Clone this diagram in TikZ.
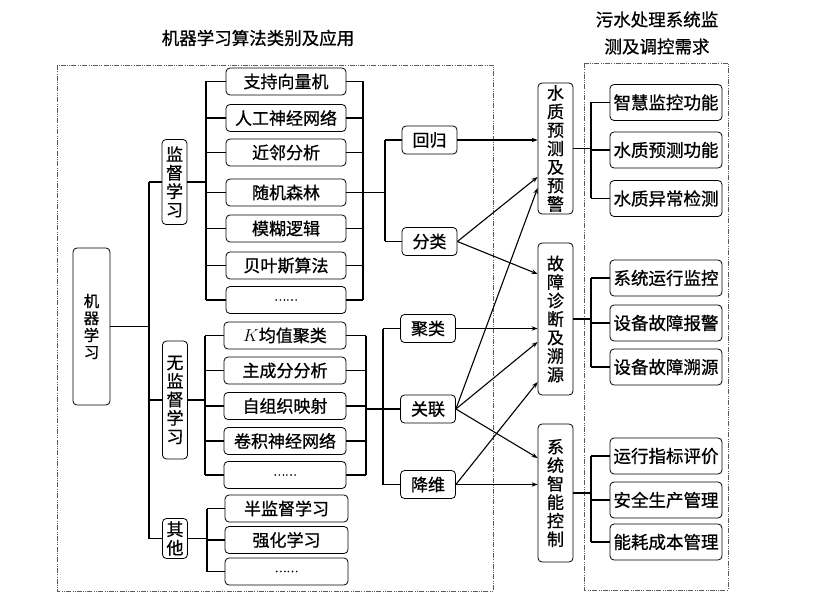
\documentclass[tikz,border=0pt]{standalone}
\usepackage{fontspec}
\newfontfamily\cjk[FakeBold=0.8]{Noto Sans CJK SC}
\usetikzlibrary{arrows.meta}
\definecolor{framegray}{RGB}{90,90,90}

\begin{document}
\begin{tikzpicture}[x=1pt, y=-1pt,
  box/.style={draw, rounded corners=4pt, line width=0.8pt, inner sep=0pt,
    font=\cjk\fontsize{17}{18.5}\selectfont, align=center},
  algbox/.style={box, minimum width=120pt, minimum height=27pt},
  taskbox/.style={box, minimum width=55pt, minimum height=28pt},
  vbox/.style={box, minimum width=25pt},
  appbox/.style={box, minimum width=35pt},
  needbox/.style={box, minimum width=112pt, minimum height=36pt,
    font=\cjk\fontsize{17.5}{18.5}\selectfont},
  link/.style={line width=1.1pt},
  arr/.style={line width=1.1pt, -{Stealth[length=6pt,width=4.5pt]}},
  frame/.style={framegray, line width=0.6pt,
    dash pattern=on 5pt off 1.5pt on 0.6pt off 1.5pt on 0.6pt off 1.5pt}
  ]
  \useasboundingbox (0,0) rectangle (829,609);

  % titles and frames
  \node[font=\cjk\fontsize{17.5}{18}\selectfont] (title1) at (258,38) {机器学习算法类别及应用};
  \node[font=\cjk\fontsize{17.5}{27}\selectfont, align=center] (title2) at (657,33)
    {污水处理系统监\\测及调控需求};
  \draw[frame] (57,65) rectangle (493,591);
  \draw[frame] (584,63) rectangle (728,590);

  % root and categories
  \node[box, minimum width=37pt, minimum height=157pt,
    font=\cjk\fontsize{15.5}{17}\selectfont] (ml) at (91.5,326.5) {机\\器\\学\\习};
  \node[vbox, minimum height=85pt] (sup) at (174.5,182) {监\\督\\学\\习};
  \node[vbox, minimum height=118pt] (unsup) at (175,400) {无\\监\\督\\学\\习};
  \node[vbox, minimum height=40pt] (other) at (175,538.5) {其\\他};

  % supervised algorithms
  \node[algbox] (svm) at (286,81.5) {支持向量机};
  \node[algbox] (ann) at (286,118) {人工神经网络};
  \node[algbox] (knn) at (286,152.5) {近邻分析};
  \node[algbox] (rf) at (286,192.5) {随机森林};
  \node[algbox] (fuzzy) at (286,228.5) {模糊逻辑};
  \node[algbox] (bayes) at (286,265.5) {贝叶斯算法};
  \node[algbox, font=\cjk\fontsize{11}{12}\selectfont] (sdots) at (286,300) {……};

  % unsupervised algorithms
  \node[algbox, minimum width=122pt] (kmeans) at (285,335.5) {$K$均值聚类};
  \node[algbox, minimum width=122pt] (pca) at (285,370.5) {主成分分析};
  \node[algbox, minimum width=122pt] (som) at (285,406) {自组织映射};
  \node[algbox, minimum width=122pt] (cnn) at (285,441) {卷积神经网络};
  \node[algbox, minimum width=122pt, font=\cjk\fontsize{11}{12}\selectfont] (udots) at (285,475) {……};

  % other algorithms
  \node[algbox, minimum width=123pt] (semi) at (286.5,508.5) {半监督学习};
  \node[algbox, minimum width=123pt] (rl) at (286.5,540) {强化学习};
  \node[algbox, minimum width=123pt, font=\cjk\fontsize{11}{12}\selectfont] (odots) at (286.5,571.5) {……};

  % tasks
  \node[taskbox] (reg) at (429.5,140) {回归};
  \node[taskbox] (cls) at (429.5,241.5) {分类};
  \node[taskbox] (clu) at (428,328.5) {聚类};
  \node[taskbox] (rel) at (428,409) {关联};
  \node[taskbox] (dim) at (428,484.5) {降维};

  % applications
  \node[appbox, minimum height=131pt] (wq) at (555.5,148.5) {水\\质\\预\\测\\及\\预\\警};
  \node[appbox, minimum height=152pt] (fault) at (555.5,319) {故\\障\\诊\\断\\及\\溯\\源};
  \node[appbox, minimum height=138pt] (ctrl) at (555.5,493) {系\\统\\智\\能\\控\\制};

  % needs
  \node[needbox] (n1) at (666,102.5) {智慧监控功能};
  \node[needbox] (n2) at (666,150) {水质预测功能};
  \node[needbox] (n3) at (666,198.5) {水质异常检测};
  \node[needbox] (n4) at (666,278) {系统运行监控};
  \node[needbox] (n5) at (666,323) {设备故障报警};
  \node[needbox] (n6) at (666,367) {设备故障溯源};
  \node[needbox] (n7) at (666,456) {运行指标评价};
  \node[needbox] (n8) at (666,500) {安全生产管理};
  \node[needbox] (n9) at (666,542) {能耗成本管理};

  % root tree
  \coordinate (mbus) at (149,0);
  \draw[link] (ml.east) -- (mbus |- ml.east);
  \draw[link] (mbus |- sup) -- (mbus |- other);
  \foreach \c in {sup,unsup,other}
    \draw[link] (mbus |- \c) -- (\c.west);

  % supervised tree
  \coordinate (sbus) at (206,0);
  \coordinate (sout) at (363,0);
  \coordinate (sfork) at (385,0);
  \draw[link] (sup.east) -- (sbus |- sup.east);
  \draw[link] (sbus |- svm) -- (sbus |- sdots);
  \draw[link] (sout |- svm) -- (sout |- sdots);
  \foreach \b in {svm,ann,knn,rf,fuzzy,bayes,sdots} {
    \draw[link] (sbus |- \b) -- (\b.west);
    \draw[link] (\b.east) -- (sout |- \b);
  }
  \draw[link] (sout |- rf) -- (sfork |- rf);
  \draw[link] (sfork |- reg) -- (sfork |- cls);
  \draw[link] (sfork |- reg) -- (reg.west);
  \draw[link] (sfork |- cls) -- (cls.west);

  % unsupervised tree
  \coordinate (ubus) at (205,0);
  \coordinate (uout) at (366,0);
  \coordinate (ufork) at (383,0);
  \draw[link] (unsup.east) -- (ubus |- unsup.east);
  \draw[link] (ubus |- kmeans) -- (ubus |- udots);
  \draw[link] (uout |- kmeans) -- (uout |- udots);
  \foreach \b in {kmeans,pca,som,cnn,udots} {
    \draw[link] (ubus |- \b) -- (\b.west);
    \draw[link] (\b.east) -- (uout |- \b);
  }
  \draw[link] (uout |- rel) -- (ufork |- rel);
  \draw[link] (ufork |- clu) -- (ufork |- dim);
  \foreach \t in {clu,rel,dim}
    \draw[link] (ufork |- \t) -- (\t.west);

  % other tree
  \coordinate (obus) at (207,0);
  \draw[link] (other.east) -- (obus |- other.east);
  \draw[link] (obus |- semi) -- (obus |- odots);
  \foreach \b in {semi,rl,odots}
    \draw[link] (obus |- \b) -- (\b.west);

  % tasks to applications
  \draw[arr] (reg.east) -- (wq.west |- reg.east);
  \draw[arr] (cls.east) -- (wq.west |- 0,177);
  \draw[arr] (cls.east) -- (fault.west |- 0,274);
  \draw[arr] (clu.east) -- (fault.west |- clu.east);
  \draw[arr] (rel.east) -- (wq.west |- 0,188);
  \draw[arr] (rel.east) -- (fault.west |- 0,342);
  \draw[arr] (rel.east) -- (ctrl.west |- 0,458);
  \draw[arr] (dim.east) -- (fault.west |- 0,382);
  \draw[arr] (dim.east) -- (ctrl.west |- dim.east);

  % applications to needs
  \coordinate (nbus) at (591,0);
  \draw[link] (wq.east) -- (nbus |- wq.east);
  \draw[link] (nbus |- n1) -- (nbus |- n3);
  \draw[link] (fault.east) -- (nbus |- fault.east);
  \draw[link] (nbus |- n4) -- (nbus |- n6);
  \draw[link] (ctrl.east) -- (nbus |- ctrl.east);
  \draw[link] (nbus |- n7) -- (nbus |- n9);
  \foreach \n in {n1,n2,n3,n4,n5,n6,n7,n8,n9}
    \draw[link] (nbus |- \n) -- (\n.west);
\end{tikzpicture}
\end{document}
